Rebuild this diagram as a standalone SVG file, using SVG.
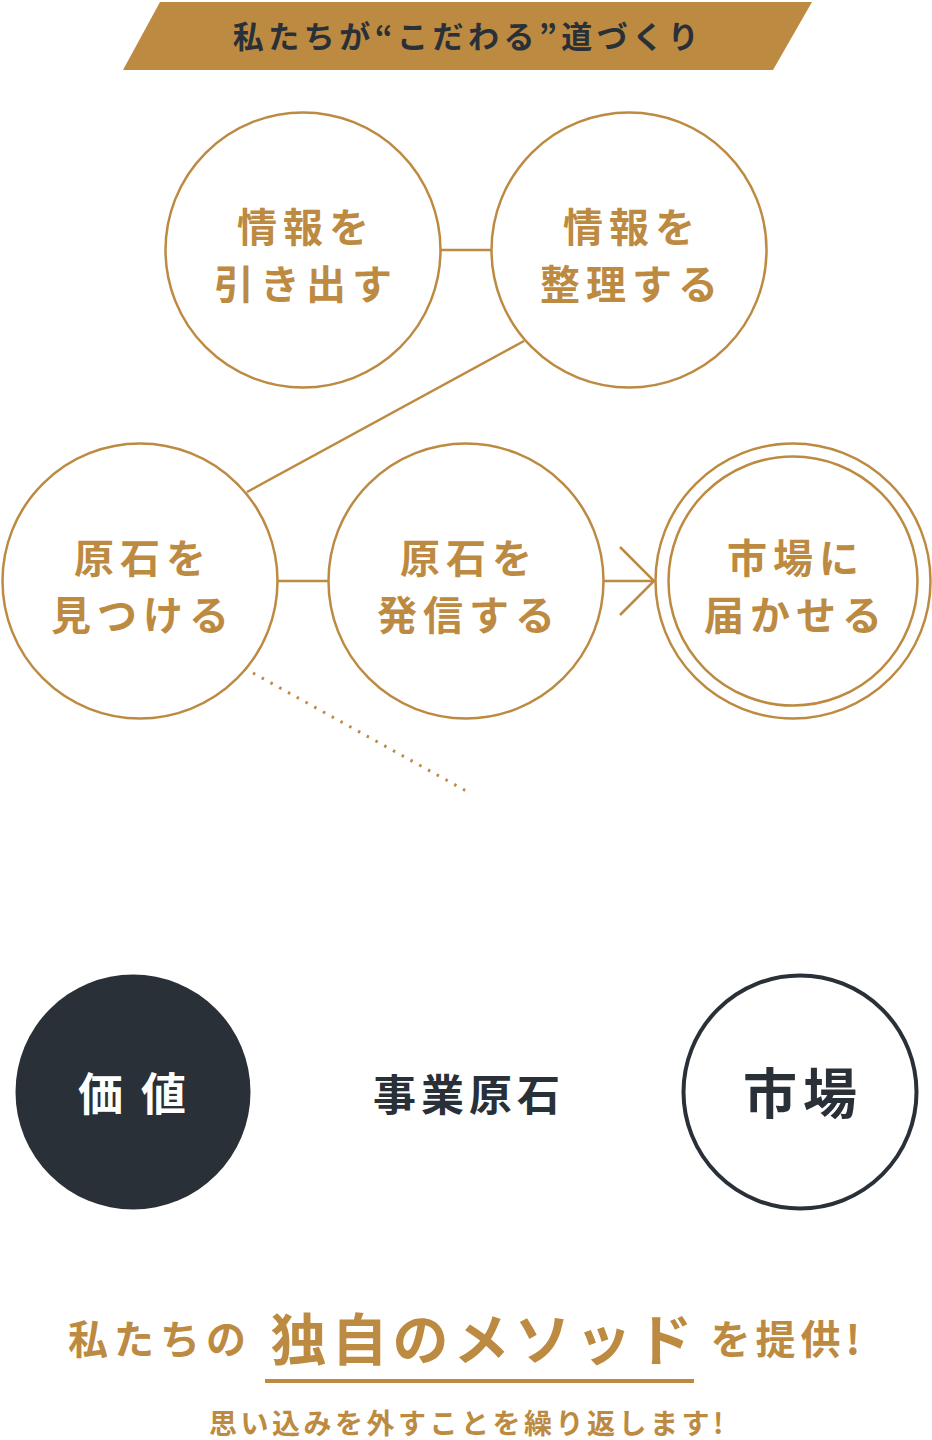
<svg xmlns="http://www.w3.org/2000/svg" width="932" height="1440" viewBox="0 0 932 1440">
<style>
text{font-family:"Noto Sans CJK JP","Noto Sans",sans-serif;font-weight:700;text-anchor:middle}
.c{fill:#fff;stroke:#bd8a42;stroke-width:2.5}
.t{fill:#bd8a42;font-size:40px;letter-spacing:6px}
.ln{stroke:#bd8a42;stroke-width:2.5;fill:none}
.gold{fill:#bd8a42}
.dark{fill:#293037}
</style>
<rect width="932" height="1440" fill="#fff"/>
<g id="header">
<polygon points="160,2 812,2 773,70 123,70" fill="#bd8a42"/>
<text x="468" y="48" class="dark" style="font-size:31px;letter-spacing:4.5px">私たちが“こだわる”道づくり</text>
</g>
<g id="connectors">
<line class="ln" x1="441" y1="250" x2="491" y2="250"/>
<line class="ln" x1="524" y1="341" x2="247" y2="492"/>
<line class="ln" x1="278" y1="581" x2="328" y2="581"/>
<line class="ln" x1="604" y1="581" x2="654" y2="581"/>
<polyline class="ln" points="620,547 654,581 620,615"/>
<line x1="253" y1="673" x2="468" y2="792" stroke="#bd8a42" stroke-width="3" stroke-dasharray="2.5 7.5"/>
</g>
<g id="n1">
<circle class="c" cx="303" cy="250" r="137.5"/>
<text class="t" x="306" y="242">情報を</text>
<text class="t" x="306" y="299">引き出す</text>
</g>
<g id="n2">
<circle class="c" cx="629" cy="250" r="137.5"/>
<text class="t" x="632" y="242">情報を</text>
<text class="t" x="632" y="299">整理する</text>
</g>
<g id="n3">
<circle class="c" cx="140" cy="581" r="137.5"/>
<text class="t" x="143" y="573">原石を</text>
<text class="t" x="143" y="630">見つける</text>
</g>
<g id="n4">
<circle class="c" cx="466" cy="581" r="137.5"/>
<text class="t" x="469" y="573">原石を</text>
<text class="t" x="469" y="630">発信する</text>
</g>
<g id="n5">
<circle class="c" cx="793" cy="581" r="137.5"/>
<circle class="c" cx="793" cy="581" r="124.5"/>
<text class="t" x="796" y="573">市場に</text>
<text class="t" x="796" y="630">届かせる</text>
</g>
<g id="value">
<circle cx="133" cy="1092" r="117.5" fill="#293037"/>
<text x="134" y="1111" fill="#fff" style="font-size:45px;letter-spacing:4px" xml:space="preserve">価 値</text>
</g>
<g id="genseki">
<text x="469" y="1111" class="dark" style="font-size:43px;letter-spacing:5px">事業原石</text>
</g>
<g id="market">
<circle cx="800" cy="1092" r="116.5" fill="#fff" stroke="#293037" stroke-width="4"/>
<text x="803" y="1114" class="dark" style="font-size:54px;letter-spacing:6px">市場</text>
</g>
<g id="bottom">
<text x="160" y="1354" class="gold" style="font-size:40px;letter-spacing:6px">私たちの</text>
<text x="484" y="1360" class="gold" style="font-size:56px;letter-spacing:5px">独自のメソッド</text>
<text x="788" y="1354" class="gold" style="font-size:40px;letter-spacing:5px">を提供!</text>
<rect x="265" y="1379" width="429" height="4" fill="#bd8a42"/>
<text x="468" y="1434" class="gold" style="font-size:28px;letter-spacing:3.5px">思い込みを外すことを繰り返します!</text>
</g>
</svg>
